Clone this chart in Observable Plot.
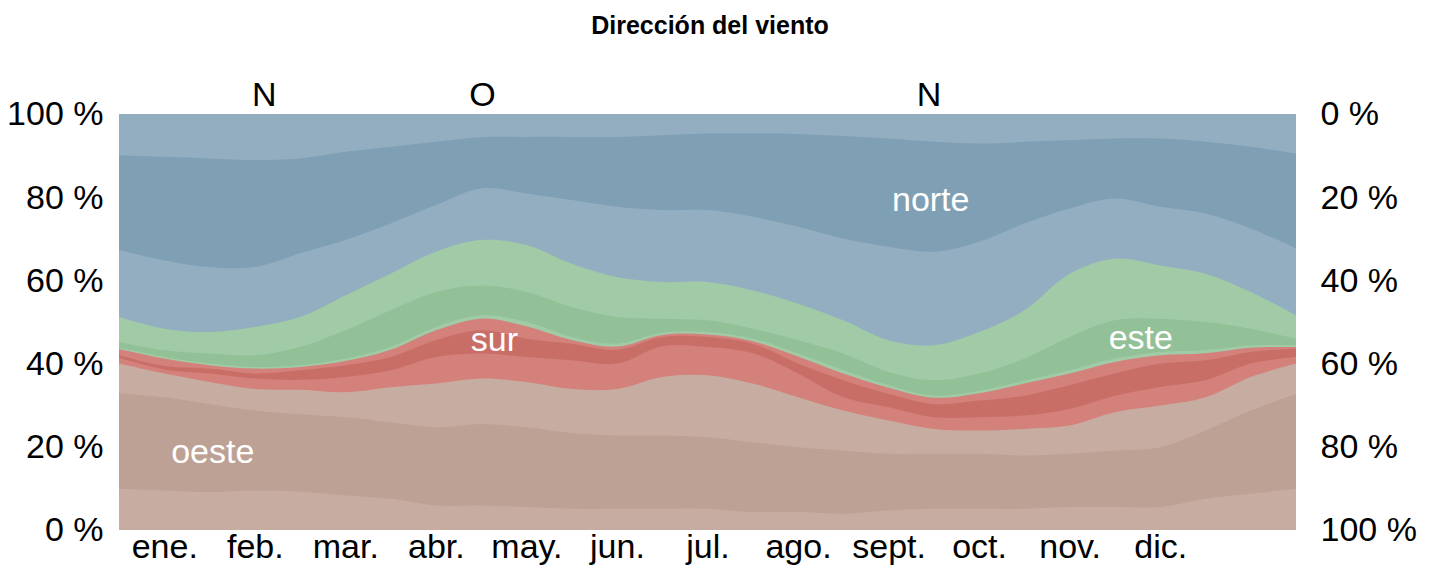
<!DOCTYPE html>
<html>
<head>
<meta charset="utf-8">
<script src="https://cdn.jsdelivr.net/npm/d3@7"></script>
<script src="https://cdn.jsdelivr.net/npm/@observablehq/plot@0.6"></script>
<style>
  body { margin: 0; background: #fff; }
  #wrap { position: relative; width: 1432px; height: 570px; font-family: "Liberation Sans", Arial, sans-serif; }
  #title { position: absolute; left: 0; width: 1420px; top: 10px; text-align: center; font-weight: bold; font-size: 25px; line-height: 30px; color: #000; z-index: 2; }
</style>
</head>
<body>
<div id="wrap"><div id="title">Dirección del viento</div></div>
<script>
// x positions: month units (0 = 1 ene., 13 = end of the chart), sampled every half month
const xs = [0,0.5,1,1.5,2,2.5,3,3.5,4,4.5,5,5.5,6,6.5,7,7.5,8,8.5,9,9.5,10,10.5,11,11.5,12,12.5,13];
const months = ["ene.","feb.","mar.","abr.","may.","jun.","jul.","ago.","sept.","oct.","nov.","dic."];
const monthCenters = [0.5,1.5,2.5,3.5,4.5,5.5,6.5,7.5,8.5,9.5,10.5,11.5];
const yTicks = [0,20,40,60,80,100];

// cumulative percentages (upper edge of each sub-band, bottom to top)
const nwLowTop   = [9.9,9.5,9.1,9.5,9.2,8.3,7.5,5.9,5.9,5.5,5.1,5.1,5.1,5.1,4.3,4.3,3.9,4.7,5.1,5.1,5.1,5.5,5.5,5.5,7.5,8.7,9.9];
const wCoreTop   = [32.9,31.9,30.3,28.7,27.8,27.1,25.9,24.7,25.5,24.7,23.3,22.7,22.7,22.3,21.1,19.9,19.1,18.3,18.3,18.3,17.9,18.3,19.1,19.9,23.9,28.7,32.7];
const oesteTop   = [40.0,37.6,35.6,33.9,33.7,33.1,34.3,35.2,36.4,35.6,33.9,33.9,36.8,37.2,35.2,31.9,28.7,26.3,24.3,23.9,24.3,25.1,28.3,29.9,31.9,36.8,40.0];
const swRedTop   = [41.4,38.6,37.6,36.4,36.1,36.8,38.4,41.6,42.4,41.6,40.8,40.0,44.2,44.0,42.5,37.6,31.9,29.5,27.1,27.1,27.5,29.1,32.3,34.4,36.0,40.0,41.6];
const sCoreTop   = [42.0,39.4,38.8,37.6,38.4,39.6,41.6,45.6,48.0,46.0,44.8,43.3,46.4,46.4,44.8,40.0,36.0,32.7,30.3,31.1,32.3,34.8,37.6,40.0,40.8,42.8,43.6];
const surTop     = [43.5,41.2,39.6,38.8,39.2,40.6,43.3,48.0,50.8,49.0,45.7,44.1,46.9,47.0,45.4,41.7,37.6,34.2,31.8,32.9,35.2,37.6,40.4,42.0,42.5,43.8,44.0];
const seGreenTop = [43.8,41.6,40.0,39.2,39.6,41.2,44.0,48.8,51.6,50.0,46.4,44.8,47.4,47.6,46.0,42.4,38.4,34.8,32.3,33.5,35.9,38.4,41.2,42.8,43.2,44.4,44.4];
const eCoreTop   = [45.2,43.2,42.4,42.0,44.0,48.0,52.8,57.2,58.8,57.2,53.6,51.2,50.8,50.4,48.4,45.6,42.4,38.0,36.0,37.6,41.2,46.4,50.4,50.8,50.0,48.4,46.0];
const esteTop    = [51.2,48.4,47.6,48.8,51.2,56.4,61.6,66.9,69.7,68.5,64.0,60.8,59.6,59.6,57.6,54.4,50.4,45.6,44.4,47.6,52.8,61.6,65.2,63.6,61.6,57.2,51.6];
const neBlueTop  = [67.3,64.8,63.2,63.2,66.5,69.7,73.7,78.1,82.1,80.9,79.3,77.7,76.9,76.9,75.3,72.9,70.1,68.1,66.9,69.3,73.7,77.3,79.7,77.7,76.1,72.5,67.7];
const nCoreTop   = [90.1,89.7,89.3,88.9,89.3,90.9,92.1,93.3,94.4,94.5,94.5,94.5,94.9,95.3,95.3,95.2,94.7,94.1,93.3,92.9,93.3,93.7,94.1,94.1,93.3,92.1,90.5];
const nwHighTop  = [100,100,100,100,100,100,100,100,100,100,100,100,100,100,100,100,100,100,100,100,100,100,100,100,100,100,100];

const lightBrown = "#c7ada1", darkBrown = "#bda194";
const lightRed = "#d4817b", darkRed = "#c96e67";
const lightGreen = "#a1cba6", darkGreen = "#92c197";
const lightBlue = "#93aec1", darkBlue = "#7f9fb5";

const layers = [
  [nwLowTop, lightBrown], [wCoreTop, darkBrown], [oesteTop, lightBrown],
  [swRedTop, lightRed], [sCoreTop, darkRed], [surTop, lightRed],
  [seGreenTop, lightGreen], [eCoreTop, darkGreen], [esteTop, lightGreen],
  [neBlueTop, lightBlue], [nCoreTop, darkBlue], [nwHighTop, lightBlue]
];

const dirLabels = [{x: 1.6, t: "N"}, {x: 4.01, t: "O"}, {x: 8.94, t: "N"}];
const bandLabels = [
  {x: 8.96, y: 79.5, t: "norte"},
  {x: 4.14, y: 45.8, t: "sur"},
  {x: 11.28, y: 46.3, t: "este"},
  {x: 1.03, y: 18.8, t: "oeste"}
];

const areaMarks = layers.slice().reverse().map(([top, color]) =>
  Plot.areaY(xs.map((x, i) => ({x, top: top[i]})), {x: "x", y1: 0, y2: "top", fill: color, curve: "catmull-rom"})
);

const FS = 34;
const chart = Plot.plot({
  width: 1432,
  height: 570,
  marginLeft: 119,
  marginRight: 136,
  marginTop: 114,
  marginBottom: 40,
  style: {fontFamily: "'Liberation Sans', Arial, sans-serif", fontSize: FS + "px", color: "#000", background: "transparent"},
  x: {domain: [0, 13]},
  y: {domain: [0, 100]},
  marks: [
    ...areaMarks,
    Plot.axisY({anchor: "left", ticks: yTicks, tickFormat: d => d + " %", tickSize: 0, tickPadding: 16, label: null, fontSize: FS}),
    Plot.axisY({anchor: "right", ticks: yTicks, tickFormat: d => (100 - d) + " %", tickSize: 0, tickPadding: 24, label: null, fontSize: FS}),
    Plot.axisX({ticks: monthCenters, tickFormat: d => months[Math.floor(d)], tickSize: 0, tickPadding: 3, label: null, fontSize: FS}),
    Plot.text(dirLabels, {x: "x", y: () => 100, text: "t", dy: -19, fontSize: FS, fill: "#000"}),
    Plot.text(bandLabels, {x: "x", y: "y", text: "t", fontSize: FS, fill: "#fff"})
  ]
});
chart.style.position = "absolute";
chart.style.left = "0";
chart.style.top = "0";
document.getElementById("wrap").appendChild(chart);
</script>
</body>
</html>
